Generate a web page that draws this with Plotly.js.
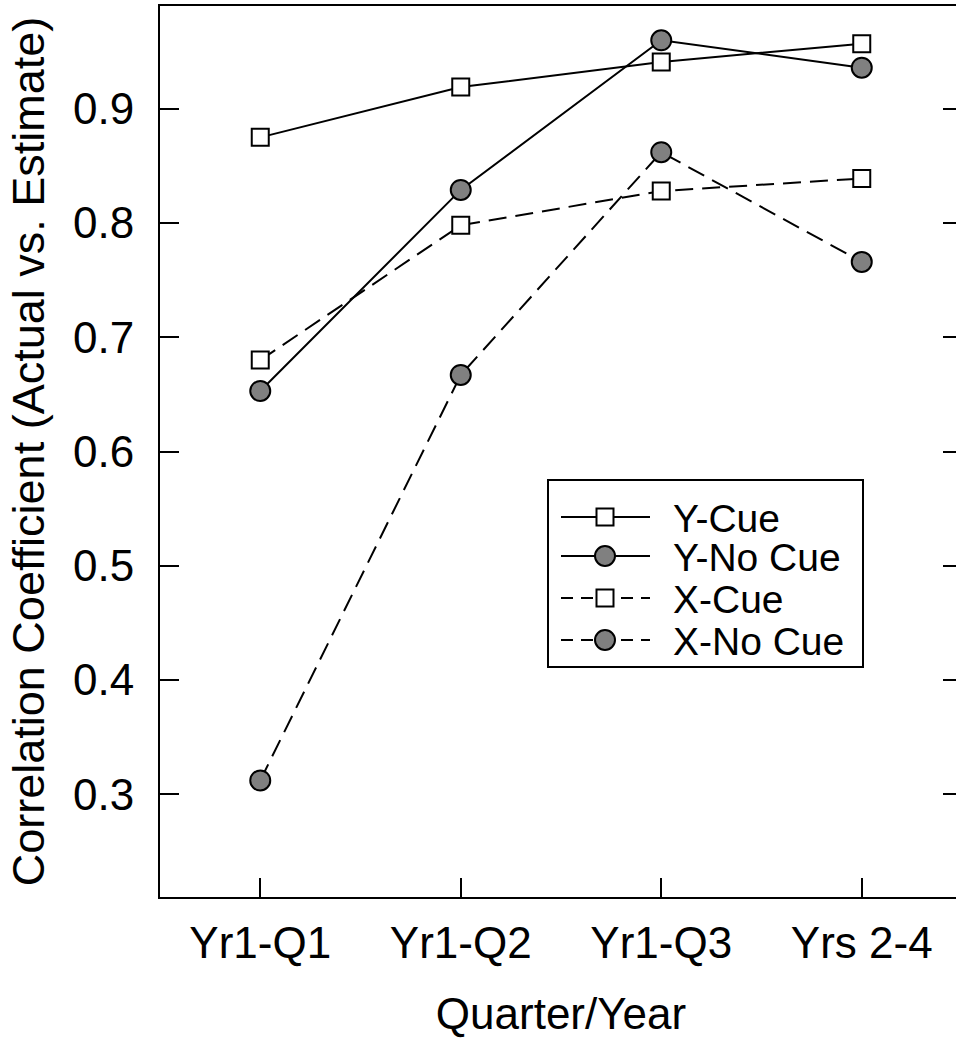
<!DOCTYPE html>
<html>
<head>
<meta charset="utf-8">
<script src="https://cdn.plot.ly/plotly-3.0.1.min.js"></script>
<style>
html,body{margin:0;padding:0;overflow:hidden;background:#fff;}
#chart{width:964px;height:1038px;}
</style>
</head>
<body>
<div id="chart"></div>
<script>
const categories = ["Yr1-Q1", "Yr1-Q2", "Yr1-Q3", "Yrs 2-4"];
const seriesNames = ["Y-Cue", "Y-No Cue", "X-Cue", "X-No Cue"];
const yCue = [0.875, 0.919, 0.941, 0.957];
const yNoCue = [0.653, 0.829, 0.960, 0.936];
const xCue = [0.680, 0.798, 0.828, 0.839];
const xNoCue = [0.312, 0.667, 0.862, 0.766];
const yTicks = [0.3, 0.4, 0.5, 0.6, 0.7, 0.8, 0.9];

const FONT = "Liberation Sans, Arial, sans-serif";
const DASH = "18px,9px";
const LEG_DASH = "12px,8px";
const sq = {symbol: "square", size: 17, color: "#ffffff", line: {color: "#000", width: 2}};
const ci = {symbol: "circle", size: 20, color: "#808080", line: {color: "#000", width: 2}};
const styles = [
  {dash: "solid", legDash: "solid", marker: sq},
  {dash: "solid", legDash: "solid", marker: ci},
  {dash: DASH, legDash: LEG_DASH, marker: sq},
  {dash: DASH, legDash: LEG_DASH, marker: ci}
];
const values = [yCue, yNoCue, xCue, xNoCue];

const traces = values.map((v, i) => ({
  name: seriesNames[i], x: categories, y: v, mode: "lines+markers",
  line: {color: "#000", width: 2, dash: styles[i].dash}, marker: styles[i].marker,
  showlegend: false
}));

// plot-area geometry (pixels) used to place the hand-made legend
const W = 964, H = 1038, ML = 160, MR = 2, MT = 6, MB = 141;
const PW = W - ML - MR, PH = H - MT - MB;
const px = x => (x - ML) / PW;
const py = y => 1 - (y - MT) / PH;

const shapes = [];
const annotations = [];
shapes.push({type: "rect", xref: "paper", yref: "paper", x0: px(548), x1: px(863), y0: py(480), y1: py(667),
  line: {color: "#000", width: 2}, fillcolor: "#fff", layer: "above"});
const rowY = [517, 556, 598, 640];
seriesNames.forEach((name, i) => {
  const yy = rowY[i];
  const isSq = styles[i].marker.symbol === "square";
  shapes.push({type: "line", xref: "paper", yref: "paper", x0: px(561), x1: px(650), y0: py(yy), y1: py(yy),
    line: {color: "#000", width: 2, dash: styles[i].legDash}, layer: "above"});
  const h = isSq ? 8.5 : 10;
  shapes.push({type: isSq ? "rect" : "circle", xref: "paper", yref: "paper",
    x0: px(605 - h), x1: px(605 + h), y0: py(yy - h), y1: py(yy + h),
    line: {color: "#000", width: 2}, fillcolor: styles[i].marker.color, layer: "above"});
  annotations.push({xref: "paper", yref: "paper", x: px(671), y: py(yy + 1), xanchor: "left", yanchor: "middle",
    text: name, showarrow: false, font: {family: FONT, size: 39, color: "#000"}});
});

const layout = {
  width: W, height: H,
  margin: {l: ML, r: MR, t: MT, b: MB},
  paper_bgcolor: "#fff", plot_bgcolor: "#fff",
  font: {family: FONT, color: "#000", size: 44},
  showlegend: false,
  shapes: shapes,
  annotations: annotations,
  xaxis: {
    type: "category", range: [-0.5, 3.5],
    tickvals: categories, ticktext: categories,
    showline: true, linecolor: "#000", linewidth: 2, mirror: true,
    ticks: "inside", ticklen: 19, tickwidth: 2, tickcolor: "#000",
    showgrid: false, zeroline: false, ticklabelstandoff: 6,
    tickfont: {family: FONT, size: 44},
    title: {text: "Quarter/Year", font: {family: FONT, size: 44}, standoff: 32}
  },
  yaxis: {
    range: [0.21, 0.99],
    tickvals: yTicks, ticktext: yTicks.map(v => v.toFixed(1)),
    showline: true, linecolor: "#000", linewidth: 2, mirror: "ticks",
    ticks: "inside", ticklen: 19, tickwidth: 2, tickcolor: "#000",
    showgrid: false, zeroline: false, ticklabelstandoff: 15,
    tickfont: {family: FONT, size: 44},
    title: {text: "Correlation Coefficient (Actual vs. Estimate)", font: {family: FONT, size: 45}, standoff: 14}
  }
};

Plotly.newPlot("chart", traces, layout, {staticPlot: true, displayModeBar: false});
</script>
</body>
</html>
